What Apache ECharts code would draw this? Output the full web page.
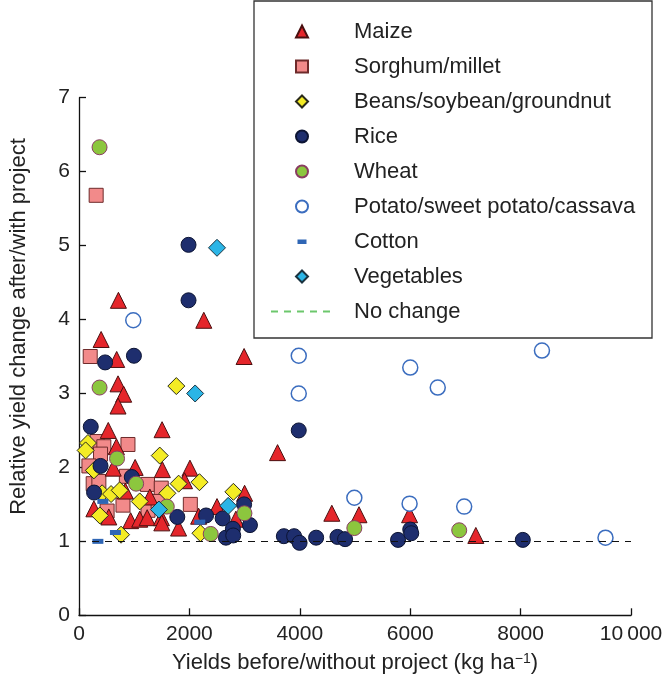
<!DOCTYPE html>
<html>
<head>
<meta charset="utf-8">
<script src="https://cdn.jsdelivr.net/npm/echarts@6/dist/echarts.min.js"></script>
<style>html,body{margin:0;padding:0;background:#fff}#c{width:666px;height:681px}</style>
</head>
<body>
<div id="c"></div>
<script>
// Data: [yield before (kg/ha), relative yield change]
const maize = [[714,4.26],[2261,3.99],[2991,3.50],[401,3.73],[683,3.46],[707,3.13],[809,2.99],[707,2.83],[530,2.50],[1505,2.51],[678,2.28],[620,1.99],[1017,2.00],[1510,1.97],[2010,1.99],[1912,1.82],[840,1.68],[1283,1.60],[270,1.44],[540,1.33],[935,1.28],[1100,1.30],[1235,1.32],[1493,1.32],[1500,1.25],[1804,1.18],[2167,1.34],[2500,1.47],[3000,1.65],[2842,1.30],[3597,2.20],[4580,1.38],[5072,1.36],[5989,1.36],[7189,1.08]];
const sorghum = [[311,5.68],[203,3.50],[329,2.35],[450,2.28],[390,2.18],[887,2.31],[180,2.02],[858,1.88],[257,1.78],[360,1.81],[1241,1.77],[1490,1.72],[797,1.49],[1250,1.42],[509,1.41],[1433,1.54],[2017,1.50]];
const beans = [[1763,3.10],[162,2.33],[120,2.23],[1463,2.16],[270,1.96],[2182,1.80],[1805,1.78],[419,1.65],[581,1.64],[737,1.69],[1601,1.65],[1100,1.54],[378,1.35],[762,1.09],[2200,1.11],[2797,1.67]];
const rice = [[1984,5.01],[1984,4.26],[473,3.42],[995,3.51],[213,2.55],[3981,2.50],[390,2.02],[956,1.87],[273,1.66],[1781,1.33],[2302,1.35],[2602,1.31],[2662,1.05],[2991,1.50],[3097,1.22],[2788,1.17],[2794,1.08],[3711,1.07],[3897,1.07],[3996,0.98],[4296,1.05],[4682,1.06],[4820,1.03],[5780,1.02],[6001,1.16],[6019,1.11],[8040,1.02]];
const wheat = [[372,6.33],[372,3.08],[689,2.12],[1035,1.78],[1590,1.47],[2386,1.10],[2997,1.38],[4988,1.18],[6888,1.15]];
const potato = [[983,3.99],[3981,3.51],[3981,3.00],[6001,3.35],[6499,3.08],[8387,3.58],[4988,1.59],[5989,1.51],[6978,1.47],[9538,1.05]];
const cotton = [[432,1.54],[660,1.12],[342,1.00],[2188,1.26]];
const vegetables = [[2500,4.97],[2104,3.00],[1448,1.43],[2703,1.48]];
const noChangeValue = 1;

const xTicks = [0,2000,4000,6000,8000,10000];
const xTickLabels = ['0','2000','4000','6000','8000','10\u2009000'];
const yTicks = [0,1,2,3,4,5,6,7];
const cropNames = ['Maize','Sorghum/millet','Beans/soybean/groundnut','Rice','Wheat','Potato/sweet potato/cassava','Cotton','Vegetables'];

const FONT = '"Liberation Sans", Arial, sans-serif';
const chart = echarts.init(document.getElementById('c'));

function sc(name, data, symbol, size, fill, border, bw) {
  return {
    name, type: 'scatter', data, symbol, symbolSize: size,
    itemStyle: { color: fill, borderColor: border, borderWidth: bw, opacity: 1 },
    emphasis: { disabled: true }
  };
}

const cottonIcon = 'path://M0,0h0.01v0.01h-0.01z M1.5,4h9v4.4h-9z M11.99,11.99h0.01v0.01h-0.01z';
const LEG_TOP = 20.5, ROW = 35;

chart.setOption({
  animation: false,
  backgroundColor: '#fff',
  textStyle: { fontFamily: FONT },
  grid: { left: 77, right: 35, top: 97.7, bottom: 65.7, containLabel: false },
  xAxis: {
    type: 'value', min: 0, max: 10000, interval: 2000,
    name: 'Yields before/without project (kg ha{sup|\u22121})',
    nameLocation: 'middle', nameGap: 37,
    nameTextStyle: { fontSize: 22, color: '#222', fontFamily: FONT,
      rich: { sup: { fontSize: 14, verticalAlign: 'top', color: '#222', fontFamily: FONT } } },
    axisLine: { show: true, lineStyle: { color: '#111', width: 1.3 } },
    axisTick: { show: true, inside: true, length: 7, lineStyle: { color: '#111', width: 1.3 } },
    axisLabel: { fontSize: 21, color: '#222', margin: 8, fontFamily: FONT,
      formatter: v => xTickLabels[xTicks.indexOf(v)] },
    splitLine: { show: false }
  },
  yAxis: {
    type: 'value', min: 0, max: 7, interval: 1,
    name: 'Relative yield change after/with project',
    nameLocation: 'middle', nameGap: 49,
    nameTextStyle: { fontSize: 22, color: '#222', fontFamily: FONT, padding: [0, 0, 0, 60] },
    axisLine: { show: true, lineStyle: { color: '#111', width: 1.3 } },
    axisTick: { show: true, inside: true, length: 7, lineStyle: { color: '#111', width: 1.3 } },
    axisLabel: { fontSize: 21, color: '#222', margin: 9, fontFamily: FONT,
      formatter: v => String(yTicks[yTicks.indexOf(v)]) },
    splitLine: { show: false }
  },
  legend: [{
    orient: 'vertical', left: 295, top: LEG_TOP, padding: 0,
    itemWidth: 12, itemHeight: 12, itemGap: ROW - 22,
    textStyle: { fontSize: 22, color: '#222', fontFamily: FONT, lineHeight: 22, padding: [0, 0, 0, 41] },
    data: cropNames.map(n => n === 'Cotton' ? { name: n, icon: cottonIcon } : { name: n })
  }, {
    orient: 'vertical', left: 270, top: LEG_TOP + 8 * ROW, padding: 0,
    itemWidth: 62, itemHeight: 12, itemGap: ROW - 22,
    textStyle: { fontSize: 22, color: '#222', fontFamily: FONT, lineHeight: 22, padding: [0, 0, 0, 16] },
    data: ['No change']
  }],
  graphic: [{
    type: 'rect', z: 100, silent: true,
    shape: { x: 254, y: 1, width: 398, height: 337 },
    style: { fill: 'none', stroke: '#333', lineWidth: 1.3 }
  }],
  series: [
    {
      name: 'No change', type: 'line', data: [], symbol: 'none', showSymbol: false,
      lineStyle: { color: '#6cc76c', width: 1.2, type: [7, 6] },
      itemStyle: { color: '#6cc76c', opacity: 0 }, z: 1, emphasis: { disabled: true },
      markLine: {
        silent: true, symbol: 'none', animation: false,
        label: { show: false },
        lineStyle: { color: '#111', width: 1.2, type: [7, 6] },
        emphasis: { disabled: true },
        data: [{ yAxis: noChangeValue }]
      }
    },
    sc('Sorghum/millet', sorghum, 'rect', 14, '#f28a8a', '#6e2b2b', 1),
    sc('Maize', maize, 'triangle', 16, '#e5262b', '#4a1010', 1),
    sc('Beans/soybean/groundnut', beans, 'diamond', 17, '#f4ec25', '#2a2a1a', 1),
    sc('Rice', rice, 'circle', 15, '#1e2e6e', '#0c1433', 1),
    sc('Wheat', wheat, 'circle', 15, '#8cc63e', '#8a3c62', 1),
    sc('Potato/sweet potato/cassava', potato, 'circle', 15, '#ffffff', '#3b6dbf', 1.5),
    sc('Cotton', cotton, 'rect', [11, 5], '#2f66b5', '#2f66b5', 0),
    sc('Vegetables', vegetables, 'diamond', 17, '#2bb5e6', '#1a3340', 1)
  ]
});
</script>
</body>
</html>
